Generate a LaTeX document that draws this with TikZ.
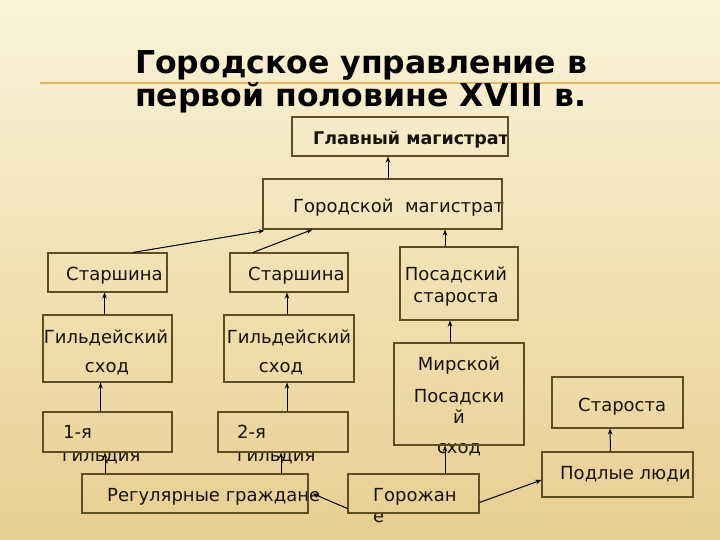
\documentclass[tikz,border=0pt]{standalone}
\usepackage{fontspec}
\setmainfont{DejaVu Sans}
\usetikzlibrary{arrows.meta}
\definecolor{bgtop}{RGB}{251,243,216}
\definecolor{bgmid}{RGB}{245,228,178}
\definecolor{bgbot}{RGB}{231,207,145}
\definecolor{gold}{RGB}{222,184,100}
\definecolor{boxc}{RGB}{95,78,35}
\definecolor{txtc}{RGB}{25,20,10}
\begin{document}
\begin{tikzpicture}[x=1pt,y=-1pt,
  box/.style={draw=boxc,line width=1.1pt,inner sep=0pt},
  lbl/.style={inner sep=0pt,anchor=base west,font=\fontsize{18}{21}\selectfont,text=txtc},
  lblc/.style={inner sep=0pt,anchor=base,font=\fontsize{18}{21}\selectfont,text=txtc},
  ttl/.style={inner sep=0pt,anchor=base west,font=\fontsize{31.5}{33}\selectfont\bfseries,text=black},
  arr/.style={draw=black,line width=1pt,-{Stealth[length=6pt,width=4.5pt]}}]
\useasboundingbox (0,0) rectangle (720,540);
\shade[top color=bgtop,middle color=bgmid,bottom color=bgbot] (0,0) rectangle (720,540);
\draw[gold,line width=2pt] (40,83) -- (720,83);
% title
\node[ttl] (title1) at (135,74) {Городское управление в};
\node[ttl] (title2) at (135,107) {первой половине XVIII в.};
% labels
\node[lbl,font=\fontsize{17.5}{21}\selectfont\bfseries] (tgm) at (313,145) {Главный магистрат};
\node[lbl] (tgorm) at (293,212) {Городской\ \ магистрат};
\node[lbl] (tst1) at (66,280) {Старшина};
\node[lbl] (tst2) at (248,280) {Старшина};
\node[lblc] (tpst1) at (456,280) {Посадский};
\node[lblc] (tpst2) at (456,302) {староста};
\node[lblc] (tgs1a) at (106,343) {Гильдейский};
\node[lblc] (tgs1b) at (107,372) {сход};
\node[lblc] (tgs2a) at (289,343) {Гильдейский};
\node[lblc] (tgs2b) at (281,372) {сход};
\node[lblc] (tmps1) at (459,370) {Мирской};
\node[lblc] (tmps2) at (459,402) {Посадски};
\node[lblc] (tmps3) at (459,423) {й};
\node[lblc] (tmps4) at (459,453) {сход};
\node[lbl] (tstar) at (578,411) {Староста};
\node[lbl] (tg1a) at (63,438) {1-я};
\node[lbl] (tg1b) at (62,461) {гильдия};
\node[lbl] (tg2a) at (237,438) {2-я};
\node[lbl] (tg2b) at (237,461) {гильдия};
\node[lbl] (treg) at (107,501) {Регулярные граждане};
\node[lbl] (tgor1) at (373,501) {Горожан};
\node[lbl] (tgor2) at (373,522) {е};
\node[lbl] (tpod) at (560,479) {Подлые люди};
% boxes
\node[box,minimum width=216pt,minimum height=39pt] (gm) at (400,136.5) {};
\node[box,minimum width=239pt,minimum height=50pt] (gorm) at (382.5,204) {};
\node[box,minimum width=119pt,minimum height=39pt] (st1) at (107.5,272.5) {};
\node[box,minimum width=118pt,minimum height=39pt] (st2) at (289,272.5) {};
\node[box,minimum width=118pt,minimum height=73pt] (pst) at (459,283.5) {};
\node[box,minimum width=129pt,minimum height=67pt] (gs1) at (107.5,348.5) {};
\node[box,minimum width=130pt,minimum height=67pt] (gs2) at (289,348.5) {};
\node[box,minimum width=130pt,minimum height=102pt] (mps) at (459,394) {};
\node[box,minimum width=131pt,minimum height=51pt] (star) at (617.5,402.5) {};
\node[box,minimum width=129pt,minimum height=40pt] (g1) at (107.5,432) {};
\node[box,minimum width=130pt,minimum height=40pt] (g2) at (283,432) {};
\node[box,minimum width=226pt,minimum height=39pt] (reg) at (195,493.5) {};
\node[box,minimum width=131pt,minimum height=39pt] (gor) at (413.5,493.5) {};
\node[box,minimum width=151pt,minimum height=45pt] (pod) at (617.5,474.5) {};
% connectors
\draw[arr] ([xshift=5.5pt]gorm.north) -- ([xshift=-12pt]gm.south);
\draw[arr] ([xshift=25.5pt]st1.north) -- ([xshift=2pt,yshift=-1pt]gorm.south west);
\draw[arr] ([xshift=-36pt]st2.north) -- ([xshift=50pt]gorm.south west);
\draw[arr] ([xshift=-14pt]pst.north) -- ([xshift=62.5pt]gorm.south);
\draw[arr] ([xshift=-3pt]gs1.north) -- ([xshift=-3pt]st1.south);
\draw[arr] ([xshift=-2pt]gs2.north) -- ([xshift=-2pt]st2.south);
\draw[arr] ([xshift=-7pt]g1.north) -- ([xshift=-7pt]gs1.south);
\draw[arr] ([xshift=4pt]g2.north) -- ([xshift=-2pt]gs2.south);
\draw[arr] ([xshift=-9pt]mps.north) -- ([xshift=-9pt]pst.south);
\draw[arr] ([xshift=-90pt]reg.north) -- ([xshift=-2.5pt]g1.south);
\draw[arr] ([xshift=86pt]reg.north) -- ([xshift=-2pt]g2.south);
\draw[arr] ([xshift=31.5pt]gor.north) -- ([xshift=-14pt]mps.south);
\draw[arr] ([yshift=5pt]gor.south west) -- ([xshift=4pt]reg.east);
\draw[arr] ([yshift=-9pt]gor.east) -- ([yshift=-5.5pt]pod.west);
\draw[arr] ([xshift=-7pt]pod.north) -- ([xshift=-7.5pt]star.south);
\end{tikzpicture}
\end{document}
